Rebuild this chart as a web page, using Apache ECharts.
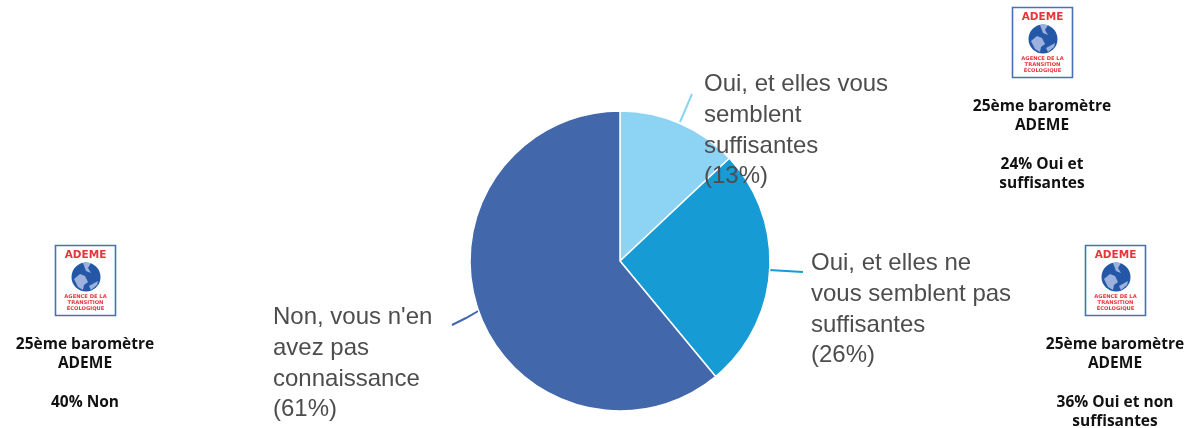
<!DOCTYPE html>
<html>
<head>
<meta charset="utf-8">
<title>Baromètre ADEME</title>
<script src="https://cdn.jsdelivr.net/npm/echarts@6/dist/echarts.min.js"></script>
<style>
  html, body { margin: 0; padding: 0; background: #fff; }
  #chart { width: 1186px; height: 428px; }
</style>
</head>
<body>
<div id="chart"></div>
<script>
const categories = [
  'Oui, et elles vous\nsemblent\nsuffisantes',
  'Oui, et elles ne\nvous semblent pas\nsuffisantes',
  "Non, vous n'en\navez pas\nconnaissance"
];
const shares = [13, 26, 61];
const sliceColors = ['#8DD3F3', '#169BD5', '#4267AB'];

const logoLines = ['AGENCE DE LA', 'TRANSITION', 'ÉCOLOGIQUE'];
const noteTexts = [
  '25ème baromètre\nADEME\n\n24% Oui et\nsuffisantes',
  '25ème baromètre\nADEME\n\n40% Non',
  '25ème baromètre\nADEME\n\n36% Oui et non\nsuffisantes'
];

// label boxes and leader lines, by slice
const labelSpots = [
  { x: 704, y: 69, line: [[680, 122], [686, 108], [692, 94]] },
  { x: 811, y: 248, line: [[769, 270], [786, 271], [803, 272]] },
  { x: 273, y: 302, line: [[480, 310], [466, 318], [452, 325]] }
];
const notes = [
  { cx: 1042, logoTop: 7, textTop: 97 },
  { cx: 85, logoTop: 245, textTop: 335 },
  { cx: 1115, logoTop: 245, textTop: 335 }
];

const makeLogo = (cx, top) => {
  const red = '#E8343A';
  const land = '#9DB1DE';
  const gx = cx + 1, gy = top + 32;
  return [
    { type: 'rect', shape: { x: cx - 29.5, y: top + 0.5, width: 60, height: 70 },
      style: { fill: '#fff', stroke: '#4472B4', lineWidth: 1.6 } },
    { type: 'text', x: cx + 0.5, y: top + 10, style: { text: 'ADEME', align: 'center', verticalAlign: 'middle',
      fill: red, font: 'bold 10.5px "DejaVu Sans"' } },
    { type: 'circle', shape: { cx: gx, cy: gy, r: 14.5 }, style: { fill: '#2458A6' } },
    { type: 'polygon', shape: { points: [[gx - 12, gy + 2], [gx - 6, gy - 3], [gx - 1, gy - 1], [gx + 2, gy + 5], [gx - 2, gy + 8], [gx - 3, gy + 13], [gx - 8, gy + 10]] },
      style: { fill: land } },
    { type: 'polygon', shape: { points: [[gx - 3, gy - 14], [gx + 5, gy - 14], [gx + 2, gy - 9], [gx + 5, gy - 4], [gx, gy - 6]] },
      style: { fill: land } },
    { type: 'polygon', shape: { points: [[gx + 3, gy + 9], [gx + 12, gy + 4], [gx + 11, gy + 8], [gx + 5, gy + 13]] },
      style: { fill: land } },
    ...logoLines.map((t, i) => ({
      type: 'text', x: cx + 0.5, y: top + 52 + i * 5.6,
      style: { text: t, align: 'center', verticalAlign: 'middle', fill: red, font: 'bold 5.2px "DejaVu Sans"' }
    }))
  ];
};

const chart = echarts.init(document.getElementById('chart'), null, { renderer: 'canvas' });

chart.setOption({
  animation: false,
  backgroundColor: '#fff',
  series: [{
    type: 'pie',
    silent: true,
    center: [620, 261],
    radius: [0, 150],
    startAngle: 90,
    clockwise: true,
    itemStyle: { borderColor: '#fff', borderWidth: 1.5 },
    label: {
      show: true,
      position: 'outside',
      alignTo: 'none',
      formatter: p => p.name + '\n(' + p.value + '%)',
      color: '#4D4D4D',
      fontFamily: 'Liberation Sans',
      fontSize: 24,
      lineHeight: 30.8,
      align: 'left',
      verticalAlign: 'top'
    },
    labelLine: { show: true, length: 10, length2: 10, smooth: false },
    labelLayout: p => ({
      x: labelSpots[p.dataIndex].x,
      y: labelSpots[p.dataIndex].y,
      align: 'left',
      verticalAlign: 'top',
      labelLinePoints: labelSpots[p.dataIndex].line
    }),
    data: categories.map((name, i) => ({
      name,
      value: shares[i],
      itemStyle: { color: sliceColors[i] },
      labelLine: { lineStyle: { color: sliceColors[i], width: 2 } }
    }))
  }],
  graphic: notes.flatMap((n, i) => [
    ...makeLogo(n.cx, n.logoTop),
    { type: 'text', x: n.cx, y: n.textTop, style: {
      text: noteTexts[i], align: 'center', verticalAlign: 'top', fill: '#111',
      font: '700 15.5px "Open Sans"', lineHeight: 19.3 } }
  ])
});
</script>
</body>
</html>
